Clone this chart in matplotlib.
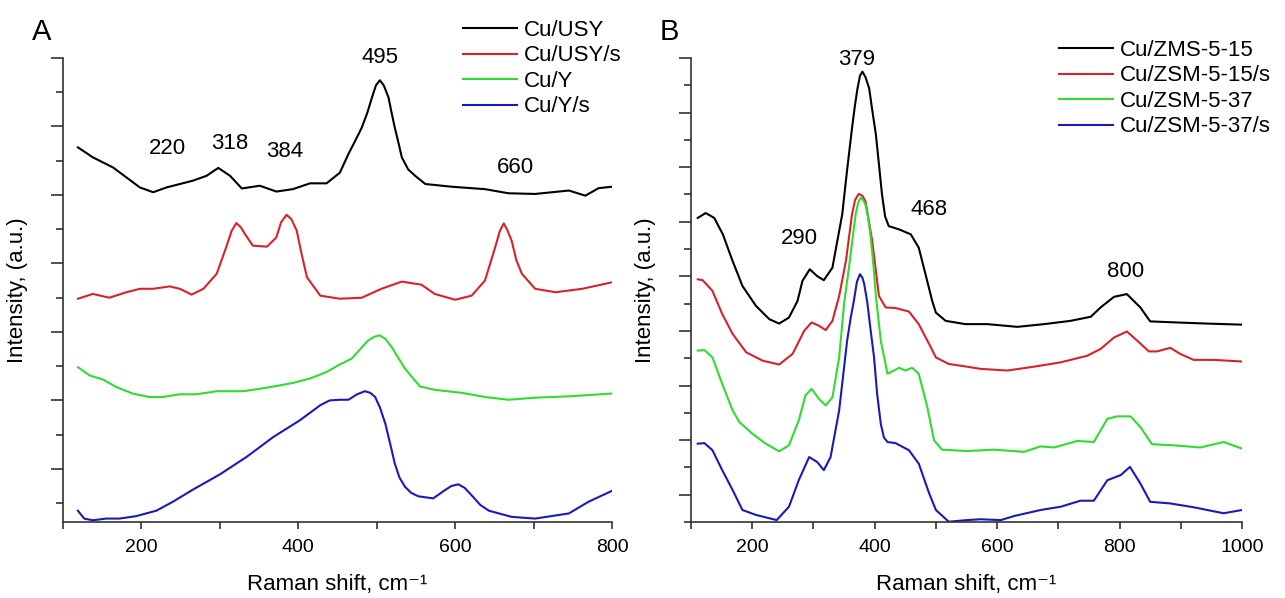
import numpy as np
import matplotlib
matplotlib.use("Agg")
import matplotlib.pyplot as plt
from matplotlib.ticker import MultipleLocator

plt.rcParams['font.family'] = ['Liberation Sans', 'DejaVu Sans']

# ---- panel A: Cu/USY, Cu/USY/s, Cu/Y, Cu/Y/s (offset traces, a.u.)
a_usy_x = [119, 138, 151, 164, 181, 198, 215, 232, 249, 266, 283, 298, 313, 328, 351, 372,
           393, 415, 436, 453, 464, 473, 481, 488, 494, 499, 504, 509, 515, 519, 523, 528,
           532, 540, 549, 562, 596, 638, 668, 702, 745, 766, 783, 800]
a_usy_y = [11.39, 11.10, 10.95, 10.80, 10.51, 10.22, 10.08, 10.22, 10.32, 10.42, 10.56, 10.79,
           10.56, 10.19, 10.27, 10.10, 10.17, 10.34, 10.34, 10.65, 11.20, 11.60, 11.97, 12.40,
           12.85, 13.20, 13.35, 13.20, 12.85, 12.40, 11.97, 11.50, 11.10, 10.75, 10.56, 10.32,
           10.24, 10.17, 10.05, 10.03, 10.13, 9.98, 10.20, 10.24]

a_usys_x = [119, 138, 159, 181, 198, 215, 236, 249, 264, 279, 296, 308, 315, 321, 327, 332,
            342, 360, 372, 378, 385, 391, 398, 404, 411, 428, 453, 481, 506, 532, 557, 574,
            600, 621, 638, 651, 657, 662, 667, 672, 678, 685, 702, 728, 762, 800]
a_usys_y = [6.97, 7.11, 7.00, 7.16, 7.26, 7.26, 7.33, 7.26, 7.09, 7.26, 7.70, 8.47, 8.95, 9.18,
            9.05, 8.86, 8.52, 8.49, 8.76, 9.20, 9.42, 9.30, 8.96, 8.30, 7.60, 7.06, 6.97, 7.00,
            7.26, 7.47, 7.38, 7.11, 6.94, 7.06, 7.50, 8.47, 8.95, 9.17, 8.95, 8.67, 8.10, 7.70,
            7.26, 7.16, 7.26, 7.45]

a_y_x = [119, 134, 151, 168, 189, 210, 227, 249, 270, 296, 330, 351, 372, 393, 415, 436, 453,
         468, 489, 497, 504, 511, 519, 536, 555, 574, 609, 638, 668, 702, 745, 800]
a_y_y = [4.97, 4.73, 4.61, 4.39, 4.20, 4.10, 4.10, 4.18, 4.18, 4.27, 4.27, 4.34, 4.42, 4.51,
         4.64, 4.83, 5.05, 5.22, 5.75, 5.86, 5.90, 5.80, 5.56, 4.93, 4.41, 4.31, 4.22, 4.10,
         4.02, 4.08, 4.12, 4.20]

a_ys_x = [119, 127, 138, 155, 172, 193, 219, 240, 266, 300, 334, 368, 402, 428, 440, 453, 464,
          475, 485, 492, 498, 504, 511, 517, 523, 529, 536, 544, 553, 572, 587, 595, 604, 612,
          621, 632, 643, 672, 702, 745, 770, 800]
a_ys_y = [0.78, 0.55, 0.50, 0.55, 0.55, 0.62, 0.78, 1.04, 1.40, 1.84, 2.35, 2.93, 3.42, 3.86,
          4.00, 4.02, 4.02, 4.18, 4.27, 4.22, 4.10, 3.80, 3.32, 2.75, 2.16, 1.75, 1.48, 1.30,
          1.20, 1.14, 1.38, 1.50, 1.55, 1.45, 1.23, 0.95, 0.78, 0.60, 0.55, 0.70, 1.04, 1.36]

# ---- panel B: Cu/ZSM-5 samples
b_15_x = [111, 124, 138, 152, 168, 184, 206, 228, 244, 260, 274, 282, 294, 306, 317, 331, 347,
          355, 363, 368, 372, 376, 380, 385, 391, 396, 402, 407, 412, 417, 423, 440, 459, 472,
          483, 494, 500, 516, 548, 584, 633, 677, 720, 753, 769, 791, 812, 834, 850, 894, 943,
          1000]
b_15_y = [11.14, 11.32, 11.14, 10.54, 9.56, 8.65, 7.92, 7.43, 7.27, 7.49, 8.10, 8.83, 9.26,
          9.01, 8.86, 9.32, 11.27, 12.90, 14.43, 15.30, 15.89, 16.35, 16.50, 16.30, 15.89,
          15.10, 14.19, 13.10, 12.00, 11.20, 10.84, 10.72, 10.54, 10.05, 9.08, 8.10, 7.67,
          7.37, 7.25, 7.25, 7.15, 7.25, 7.37, 7.52, 7.86, 8.25, 8.35, 7.86, 7.35, 7.31, 7.27,
          7.23]

b_15s_x = [111, 119, 135, 151, 168, 190, 217, 244, 266, 285, 297, 309, 320, 331, 342, 353, 363,
           368, 374, 380, 385, 390, 396, 402, 407, 418, 434, 456, 472, 489, 500, 521, 551, 573,
           617, 660, 704, 747, 769, 791, 812, 829, 848, 861, 883, 899, 921, 954, 1000]
b_15s_y = [8.89, 8.86, 8.47, 7.62, 6.89, 6.22, 5.91, 5.77, 6.16, 7.01, 7.31, 7.19, 7.03, 7.37,
           8.28, 9.56, 11.27, 11.80, 12.02, 11.95, 11.75, 11.10, 10.29, 9.20, 8.28, 7.86, 7.84,
           7.71, 7.25, 6.52, 6.03, 5.79, 5.69, 5.61, 5.55, 5.69, 5.85, 6.09, 6.34, 6.76, 6.98,
           6.64, 6.25, 6.25, 6.38, 6.16, 5.94, 5.94, 5.88]

b_37_x = [111, 122, 135, 151, 168, 179, 200, 222, 244, 260, 276, 287, 297, 309, 320, 331, 342,
          350, 358, 364, 369, 373, 377, 381, 385, 389, 393, 398, 402, 410, 421, 440, 450, 461,
          472, 486, 497, 510, 551, 595, 644, 671, 693, 731, 758, 780, 796, 818, 834, 853, 888,
          932, 970, 1000]
b_37_y = [6.28, 6.30, 6.03, 5.06, 4.09, 3.66, 3.24, 2.87, 2.59, 2.81, 3.72, 4.64, 4.88, 4.51,
          4.27, 4.57, 6.03, 7.99, 9.32, 10.40, 11.27, 11.70, 11.87, 11.80, 11.63, 11.20, 10.54,
          9.40, 8.28, 6.64, 5.43, 5.65, 5.55, 5.65, 5.43, 4.21, 2.99, 2.65, 2.60, 2.65, 2.57,
          2.77, 2.73, 2.97, 2.93, 3.78, 3.87, 3.87, 3.48, 2.85, 2.81, 2.73, 2.93, 2.69]

b_37s_x = [111, 122, 135, 151, 168, 184, 206, 240, 260, 276, 293, 306, 317, 328, 342, 355, 361,
           366, 371, 376, 380, 383, 388, 393, 399, 404, 410, 415, 421, 434, 456, 472, 489, 500,
           521, 551, 573, 606, 628, 671, 704, 736, 758, 780, 802, 817, 834, 850, 883, 921, 970,
           1000]
b_37s_y = [2.87, 2.89, 2.63, 1.90, 1.17, 0.44, 0.26, 0.07, 0.56, 1.53, 2.38, 2.20, 1.90, 2.38,
           4.09, 6.64, 7.50, 8.10, 8.80, 9.08, 8.95, 8.71, 8.04, 7.10, 6.03, 4.70, 3.60, 3.10,
           2.93, 2.89, 2.63, 2.14, 1.05, 0.44, 0.01, 0.07, 0.10, 0.07, 0.22, 0.44, 0.56, 0.78,
           0.78, 1.53, 1.72, 2.02, 1.41, 0.74, 0.68, 0.54, 0.32, 0.44]

a_labels = ['Cu/USY', 'Cu/USY/s', 'Cu/Y', 'Cu/Y/s']
b_labels = ['Cu/ZMS-5-15', 'Cu/ZSM-5-15/s', 'Cu/ZSM-5-37', 'Cu/ZSM-5-37/s']
colors = ['#000000', '#d8222b', '#2fdc2f', '#1a1ab8']

a_peaks = ['220', '318', '384', '495', '660']
a_peak_pos = [(233, 11.36), (312, 11.50), (383, 11.27), (504, 14.01), (677, 10.80)]
b_peaks = ['290', '379', '468', '800']
b_peak_pos = [(277, 10.39), (371, 16.96), (489, 11.45), (810, 9.17)]

fig = plt.figure(figsize=(12.85, 5.98), dpi=100)
axA = fig.add_axes([63 / 1285, 76 / 598, 549 / 1285, 464 / 598])
axB = fig.add_axes([691 / 1285, 76 / 598, 551 / 1285, 464 / 598])

for x, y, c, lab in zip([a_usy_x, a_usys_x, a_y_x, a_ys_x],
                        [a_usy_y, a_usys_y, a_y_y, a_ys_y], colors, a_labels):
    axA.plot(x, y, color=c, lw=1.5, label=lab, solid_joinstyle='round')
for x, y, c, lab in zip([b_15_x, b_15s_x, b_37_x, b_37s_x],
                        [b_15_y, b_15s_y, b_37_y, b_37s_y], colors, b_labels):
    axB.plot(x, y, color=c, lw=1.5, label=lab, solid_joinstyle='round')

axA.set_xlim(100, 800)
axA.set_ylim(0.45, 14)
axB.set_xlim(100, 1000)
axB.set_ylim(0, 17)

axA.yaxis.set_major_locator(MultipleLocator(2))
axA.yaxis.set_minor_locator(MultipleLocator(1))
axB.yaxis.set_major_locator(MultipleLocator(2, offset=1))
axB.yaxis.set_minor_locator(MultipleLocator(1))

for ax in (axA, axB):
    ax.spines['top'].set_visible(False)
    ax.spines['right'].set_visible(False)
    for s in ('left', 'bottom'):
        ax.spines[s].set_linewidth(1.2)
        ax.spines[s].set_color('#333333')
    ax.xaxis.set_major_locator(MultipleLocator(200))
    ax.xaxis.set_minor_locator(MultipleLocator(100))
    ax.tick_params(axis='x', which='both', direction='out', length=5, width=1.2,
                   color='#333333', labelsize=14, pad=7)
    ax.tick_params(axis='y', which='major', direction='out', length=9, width=1.2,
                   color='#333333', labelleft=False)
    ax.tick_params(axis='y', which='minor', direction='out', length=5, width=1.2,
                   color='#333333')
    ax.set_xlabel('Raman shift, cm⁻¹', fontsize=16, labelpad=13)
    ax.set_ylabel('Intensity, (a.u.)', fontsize=16, labelpad=16)

for t, (x, y) in zip(a_peaks, a_peak_pos):
    axA.text(x, y, t, fontsize=16, ha='center', va='center')
for t, (x, y) in zip(b_peaks, b_peak_pos):
    axB.text(x, y, t, fontsize=16, ha='center', va='center')

fig.text(42 / 1285, 1 - 32 / 598, 'A', fontsize=21, ha='center', va='center')
fig.text(669 / 1285, 1 - 32 / 598, 'B', fontsize=21, ha='center', va='center')

legkw = dict(loc='upper left', frameon=False, fontsize=16, handlelength=2.45,
             handletextpad=0.3, labelspacing=0.2, borderpad=0, borderaxespad=0)
axA.legend(bbox_to_anchor=(463 / 1285, 1 - 20 / 598), bbox_transform=fig.transFigure, **legkw)
axB.legend(bbox_to_anchor=(1059 / 1285, 1 - 40 / 598), bbox_transform=fig.transFigure, **legkw)

fig.savefig('out.png', dpi=100)
